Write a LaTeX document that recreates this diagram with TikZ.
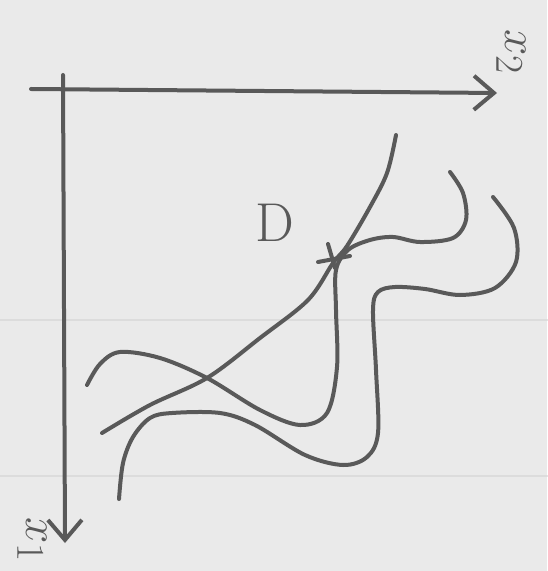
\documentclass[tikz,border=0pt]{standalone}
\usetikzlibrary{arrows.meta}
\definecolor{paper}{HTML}{EAEAEA}
\definecolor{ink}{HTML}{595959}
\definecolor{ruling}{HTML}{DCDCDC}

\begin{document}
\begin{tikzpicture}[x=0.5pt, y=-0.5pt, line cap=round, line join=round,
    pen/.style={draw=ink, line width=2pt},
    curve/.style={pen, smooth, tension=0.55},
    lbl/.style={text=ink, font=\Huge, inner sep=0pt},
    >={Straight Barb[length=10pt,width=17pt]}]
    % sheet of paper
    \fill[paper] (0,0) rectangle (547,571);
    \useasboundingbox (0,0) rectangle (547,571);
    \draw[ruling, line width=1pt] (0,320) -- (547,320);
    \draw[ruling, line width=1pt] (0,476) -- (547,476);

    % axes
    \coordinate (htail) at (31,89);
    \coordinate (htip) at (497,93);
    \coordinate (vtail) at (63,75);
    \coordinate (vtip) at (65,543);
    \draw[pen, ->] (htail) -- (htip);
    \draw[pen, ->] (vtail) -- (vtip);

    \node (xtwo) [lbl, rotate=-90, scale=0.95] at (511,52) {$x_2$};
    \node (xone) [lbl, rotate=-90, scale=0.95] at (32,540) {$x_1$};
    \node (dlabel) [lbl, scale=1.1] at (275,223) {D};

    % the three curves
    \draw[curve] plot coordinates {(102,433) (150,405) (207,378) (260,338)
        (308,300) (333,263) (347,246) (370,207) (387,173) (396,135)};
    \draw[curve] plot coordinates {(87,385) (100,364) (120,352) (160,358)
        (207,378) (260,410) (300,425) (327,413) (337,367) (336,310)
        (336,270) (348,250) (370,240) (393,237) (420,242) (453,238)
        (466,220) (463,193) (450,172)};
    \draw[curve] plot coordinates {(119,499) (123,463) (133,437) (150,418)
        (172,413) (220,413) (255,425) (305,455) (343,465) (367,457)
        (378,433) (376,370) (373,310) (378,292) (395,287) (425,289)
        (460,295) (495,288) (516,262) (514,228) (493,197)};

    % mark at D
    \coordinate (dmark) at (333,259);
    \draw[pen] (dmark) ++(-15,3) -- ++(32,-6);
    \draw[pen] (dmark) ++(-5,-15) -- ++(7,24);
\end{tikzpicture}
\end{document}
